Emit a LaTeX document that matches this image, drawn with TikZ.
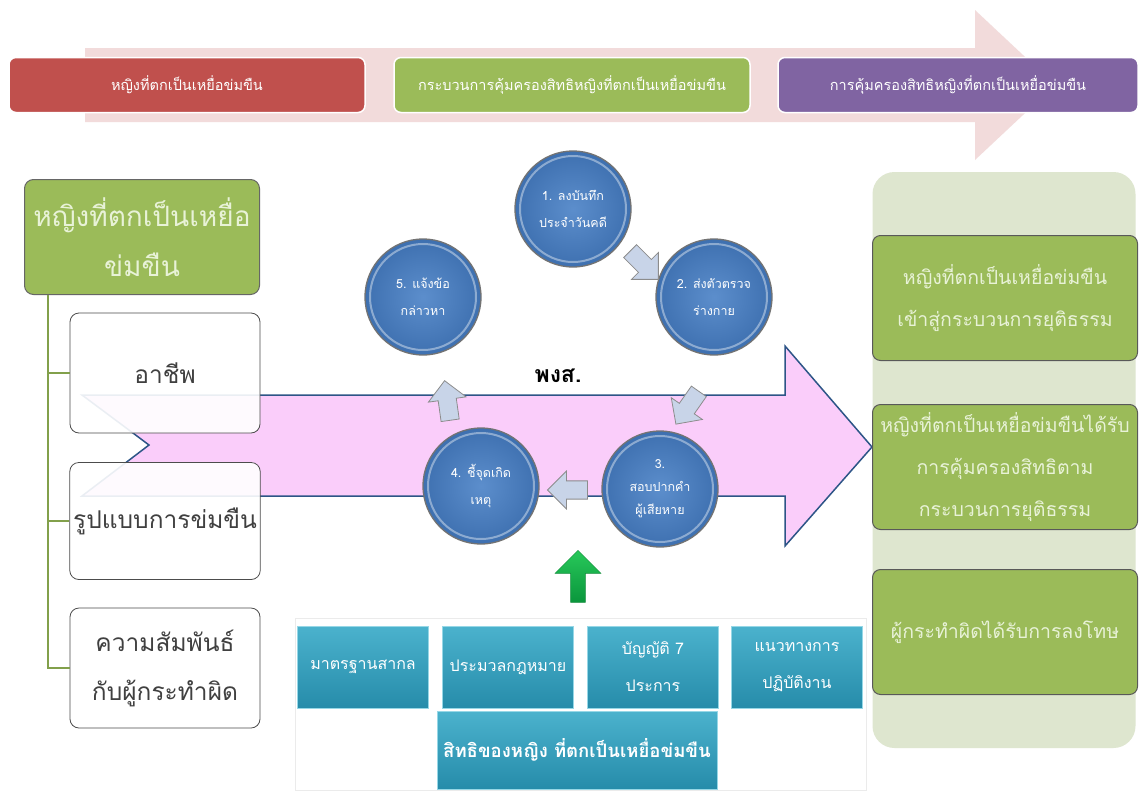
\documentclass[tikz,border=0pt]{standalone}
\usepackage{fontspec}
\newfontfamily\thaifont[Script=Thai]{Loma}
\usetikzlibrary{shapes.arrows}
\definecolor{redbox}{RGB}{192,80,77}
\definecolor{greenbox}{RGB}{155,187,89}
\definecolor{greentext}{RGB}{232,242,215}
\definecolor{purplebox}{RGB}{128,100,162}
\definecolor{tealtop}{RGB}{75,178,205}
\definecolor{tealbot}{RGB}{38,140,170}
\definecolor{bluein}{RGB}{92,142,204}
\definecolor{blueout}{RGB}{62,112,176}
\definecolor{pinkarrow}{RGB}{250,205,250}
\definecolor{arrowedge}{RGB}{45,85,135}
\definecolor{toparrow}{RGB}{238,208,208}
\definecolor{sarrowfill}{RGB}{200,212,232}
\definecolor{rightpanel}{RGB}{222,230,207}
\definecolor{treeline}{RGB}{130,160,75}
\begin{document}
\begin{tikzpicture}[x=1pt,y=-1pt,
  thai/.style 2 args={font=\thaifont\linespread{#2}\fontsize{#1}{#1}\selectfont},
  topbox/.style={rounded corners=7pt, draw=white, line width=1.5pt,
    minimum height=55pt, text=white, thai={14.5}{1.3}},
  circ/.style={circle, minimum size=116pt, inner color=bluein, outer color=blueout,
    draw=black!55, line width=1.3pt, text=white, align=center, thai={12.5}{2.2}},
  sarrow/.style={single arrow, draw=black!45, fill=sarrowfill, line width=0.8pt,
    minimum height=40pt, minimum width=38pt, single arrow head extend=8pt, inner sep=7pt},
  leftbox/.style={rounded corners=9pt, draw=black!70, line width=0.8pt, fill=white,
    fill opacity=0.9, text opacity=1, minimum width=190pt, text=black!75, align=center, thai={24.5}{2.0}},
  greenrbox/.style={rounded corners=8pt, draw=black!65, line width=1pt, fill=greenbox,
    minimum width=265pt, minimum height=125pt, text=greentext, align=center, thai={19.5}{2.15}},
  tealbox/.style={top color=tealtop, bottom color=tealbot, draw={rgb,255:red,150;green,215;blue,230},
    line width=1pt, minimum height=82pt, text=white, align=center, thai={16}{2.3}},
  tree/.style={draw=treeline, line width=2pt}
]
\useasboundingbox (0,0) rectangle (1140,790);
\fill[white] (0,0) rectangle (1140,790);

% top translucent arrow
\fill[toparrow, opacity=0.75] (85,48) -- (975,48) -- (975,10) -- (1055,85) -- (975,160) -- (975,122) -- (85,122) -- cycle;

% top boxes
\node[topbox, fill=redbox, minimum width=356pt] (t1) at (187,85) {หญิงที่ตกเป็นเหยื่อข่มขืน};
\node[topbox, fill=greenbox, minimum width=356pt] (t2) at (572,85) {กระบวนการคุ้มครองสิทธิหญิงที่ตกเป็นเหยื่อข่มขืน};
\node[topbox, fill=purplebox, minimum width=360pt] (t3) at (958,85) {การคุ้มครองสิทธิหญิงที่ตกเป็นเหยื่อข่มขืน};

% big pink arrow
\filldraw[fill=pinkarrow, draw=arrowedge, line width=1.5pt, line join=miter]
  (82,395) -- (785,395) -- (785,346) -- (872,447) -- (785,546) -- (785,496) -- (82,496) -- (149,445) -- cycle;

% left tree
\node[rounded corners=9pt, draw=black!60, line width=1pt, fill=greenbox, minimum width=235pt,
  minimum height=115pt, text=greentext, align=center, thai={28}{1.8}] (hdr) at (142,237) {หญิงที่ตกเป็นเหยื่อ\\ข่มขืน};
\node[leftbox, minimum height=120pt] (b1) at (165,373) {อาชีพ};
\node[leftbox, minimum height=117pt] (b2) at (165,521) {รูปแบบการข่มขืน};
\node[leftbox, minimum height=120pt] (b3) at (165,668) {ความสัมพันธ์\\กับผู้กระทำผิด};
\coordinate (trunk) at (hdr.south -| 48,0);
\draw[tree] (trunk) |- (b3.west);
\draw[tree] (trunk |- b1.west) -- (b1.west);
\draw[tree] (trunk |- b2.west) -- (b2.west);

% circles
\node[circ] (c1) at (573,209) {1. ลงบันทึก\\ประจำวันคดี};
\node[circ] (c2) at (714,297) {2. ส่งตัวตรวจ\\ร่างกาย};
\node[circ, thai={12.5}{1.85}] (c3) at (660,489) {3.\\สอบปากคำ\\ผู้เสียหาย};
\node[circ] (c4) at (481,486) {4. ชี้จุดเกิด\\เหตุ};
\node[circ] (c5) at (423,297) {5. แจ้งข้อ\\กล่าวหา};
\foreach \c in {c1,c2,c3,c4,c5}
  \draw[white, opacity=0.4, line width=2pt] (\c.center) circle (53);

% small arrows between circles
\node[sarrow, rotate=-45] (a12) at (641,262) {};
\node[sarrow, rotate=-125] (a23) at (690,404) {};
\node[sarrow, rotate=180] (a34) at (572,490) {};
\node[sarrow, rotate=98] (a45) at (448,405) {};

% label
\node[font=\thaifont\bfseries\fontsize{23}{26}\selectfont] (pgs) at (558,376) {พงส.};

% green up arrow
\node[single arrow, rotate=90, top color={rgb,255:red,40;green,200;blue,90}, bottom color={rgb,255:red,10;green,150;blue,60},
  draw={rgb,255:red,20;green,140;blue,60}, minimum height=52pt, minimum width=46pt,
  single arrow head extend=11pt, inner sep=5pt] (garrow) at (578,580) {};

% bottom panel
\node[draw=black!8, fill=white, fill opacity=0.7, minimum width=571pt, minimum height=172pt] (bpanel) at (581,704) {};
\node[tealbox, minimum width=131pt] (m1) at (363,667) {มาตรฐานสากล};
\node[tealbox, minimum width=131pt] (m2) at (508,667) {ประมวลกฎหมาย};
\node[tealbox, minimum width=131pt] (m3) at (653,667) {บัญญัติ 7\\ประการ};
\node[tealbox, minimum width=131pt] (m4) at (797,667) {แนวทางการ\\ปฏิบัติงาน};
\node[tealbox, minimum width=280pt, minimum height=78pt, font=\thaifont\bfseries\fontsize{18.5}{22}\selectfont] (m5) at (577,750) {สิทธิของหญิง ที่ตกเป็นเหยื่อข่มขืน};

% right panel
\node[rounded corners=22pt, fill=rightpanel, minimum width=263pt, minimum height=576pt] (rpanel) at (1004,460) {};
\node[greenrbox] (r1) at (1005,298) {หญิงที่ตกเป็นเหยื่อข่มขืน\\เข้าสู่กระบวนการยุติธรรม};
\node[greenrbox] (r2) at (1005,467) {หญิงที่ตกเป็นเหยื่อข่มขืนได้รับ\\การคุ้มครองสิทธิตาม\\กระบวนการยุติธรรม};
\node[greenrbox] (r3) at (1005,632) {ผู้กระทำผิดได้รับการลงโทษ};
\end{tikzpicture}
\end{document}
